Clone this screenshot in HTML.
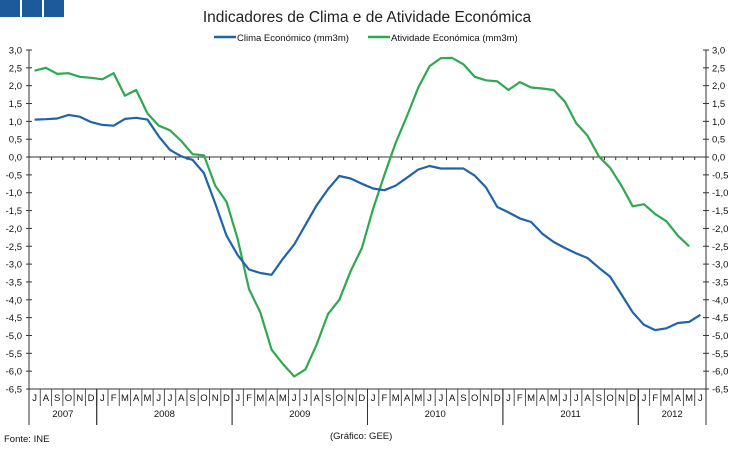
<!DOCTYPE html>
<html><head><meta charset="utf-8"><style>
body{margin:0;background:#fff;width:734px;height:447px;overflow:hidden;font-family:"Liberation Sans",sans-serif}
</style></head><body>
<svg id="c" width="734" height="447" xmlns="http://www.w3.org/2000/svg" font-family="Liberation Sans, sans-serif">
<rect x="0" y="0" width="20" height="17" fill="#1c5a9c"/>
<rect x="22" y="0" width="20" height="17" fill="#1c5a9c"/>
<rect x="44" y="0" width="20" height="17" fill="#1c5a9c"/>
<text x="367" y="22" font-size="15.5" text-anchor="middle" fill="#222">Indicadores de Clima e de Atividade Económica</text>
<g>
<line x1="214" y1="37" x2="236" y2="37" stroke="#1f63ab" stroke-width="2.5"/>
<text x="237" y="41" font-size="9.5" fill="#111">Clima Económico (mm3m)</text>
<line x1="368" y1="37" x2="390" y2="37" stroke="#2fa84f" stroke-width="2.5"/>
<text x="391" y="41" font-size="9.5" fill="#111">Atividade Económica (mm3m)</text>
</g>
<g id="axes"></g>
<g id="series"></g>
<text x="4" y="442" font-size="9.5" fill="#111">Fonte: INE</text>
<text x="330" y="439" font-size="9.5" fill="#111">(Gráfico: GEE)</text>
</svg>
<script>
const months=["J","A","S","O","N","D","J","F","M","A","M","J","J","A","S","O","N","D","J","F","M","A","M","J","J","A","S","O","N","D","J","F","M","A","M","J","J","A","S","O","N","D","J","F","M","A","M","J","J","A","S","O","N","D","J","F","M","A","M","J"];
const years=["2007","2008","2009","2010","2011","2012"];
const yearCounts=[6,12,12,12,12,6];
const yTicks=[3,2.5,2,1.5,1,0.5,0,-0.5,-1,-1.5,-2,-2.5,-3,-3.5,-4,-4.5,-5,-5.5,-6,-6.5];
const clima=[1.05,1.06,1.08,1.18,1.13,0.98,0.9,0.88,1.07,1.1,1.05,0.58,0.2,0.02,-0.08,-0.45,-1.3,-2.2,-2.75,-3.15,-3.25,-3.3,-2.85,-2.45,-1.9,-1.35,-0.9,-0.53,-0.6,-0.75,-0.88,-0.93,-0.8,-0.58,-0.35,-0.25,-0.32,-0.32,-0.32,-0.52,-0.85,-1.4,-1.55,-1.72,-1.82,-2.15,-2.38,-2.55,-2.7,-2.83,-3.1,-3.35,-3.85,-4.35,-4.7,-4.85,-4.8,-4.65,-4.62,-4.42];
const atividade=[2.42,2.5,2.33,2.35,2.25,2.22,2.18,2.35,1.72,1.88,1.22,0.88,0.75,0.45,0.08,0.05,-0.8,-1.25,-2.3,-3.7,-4.35,-5.4,-5.8,-6.15,-5.95,-5.25,-4.4,-4.0,-3.2,-2.55,-1.45,-0.5,0.4,1.15,1.95,2.55,2.77,2.78,2.6,2.25,2.15,2.12,1.88,2.1,1.95,1.92,1.88,1.55,0.95,0.6,0.02,-0.3,-0.8,-1.38,-1.32,-1.6,-1.8,-2.2,-2.5];
const L=29,R=706,T=50,B=389,N=months.length;
const bw=(R-L)/N;
const xs=i=>L+bw*(i+0.5);
const ys=v=>T+(3-v)/9.5*(B-T);
const NS="http://www.w3.org/2000/svg";
function mk(t,a,p){const e=document.createElementNS(NS,t);for(const k in a)e.setAttribute(k,a[k]);p.appendChild(e);return e;}
const ax=document.getElementById('axes');
let e=mk('line',{x1:L,y1:T,x2:L,y2:B,stroke:'#333'},ax);


e=mk('line',{x1:R,y1:T,x2:R,y2:B,stroke:'#333'},ax);


yTicks.forEach(v=>{const y=ys(v);
 mk('line',{x1:L-3,y1:y,x2:L+3,y2:y,stroke:'#333'},ax);
 mk('line',{x1:R-3,y1:y,x2:R+3,y2:y,stroke:'#333'},ax);
 const s=v.toFixed(1).replace('.',',');
 let t=mk('text',{x:22,y:y+3.5,'font-size':9.5,'text-anchor':'end',fill:'#111'},ax);t.textContent=s;
 
 
 t=mk('text',{x:712,y:y+3.5,'font-size':9.5,fill:'#111'},ax);t.textContent=s;
 
 
});
const y0=ys(0);
e=mk('line',{x1:L,y1:y0,x2:R,y2:y0,stroke:'#333'},ax);


for(let i=0;i<=N;i++){const x=L+bw*i;mk('line',{x1:x,y1:y0,x2:x,y2:y0+3,stroke:'#333'},ax);}
e=mk('line',{x1:L,y1:B,x2:R,y2:B,stroke:'#333'},ax);


months.forEach((m,i)=>{const x=L+bw*i;
 if(i>0)mk('line',{x1:x,y1:B,x2:x,y2:B+17,stroke:'#555'},ax);
 const t=mk('text',{x:xs(i),y:B+12,'font-size':9.5,'text-anchor':'middle',fill:'#111'},ax);t.textContent=m;
 
 
});
let acc=0;
years.forEach((yr,k)=>{const x0=L+bw*acc;acc+=yearCounts[k];const x1=L+bw*acc;
 mk('line',{x1:x0,y1:B,x2:x0,y2:B+36,stroke:'#333'},ax);
 mk('line',{x1:x1,y1:B,x2:x1,y2:B+36,stroke:'#333'},ax);
 const t=mk('text',{x:(x0+x1)/2,y:B+28,'font-size':9.5,'text-anchor':'middle',fill:'#111'},ax);t.textContent=yr;
 
 
});
const sg=document.getElementById('series');
function line(vals,col,name){const p=mk('polyline',{points:vals.map((v,i)=>xs(i).toFixed(1)+','+ys(v).toFixed(1)).join(' '),fill:'none',stroke:col,'stroke-width':2.2,'stroke-linejoin':'round'},sg);
 
 }
line(atividade,'#2fa84f','series-atividade');
line(clima,'#1f63ab','series-clima');
</script>
</body></html>
